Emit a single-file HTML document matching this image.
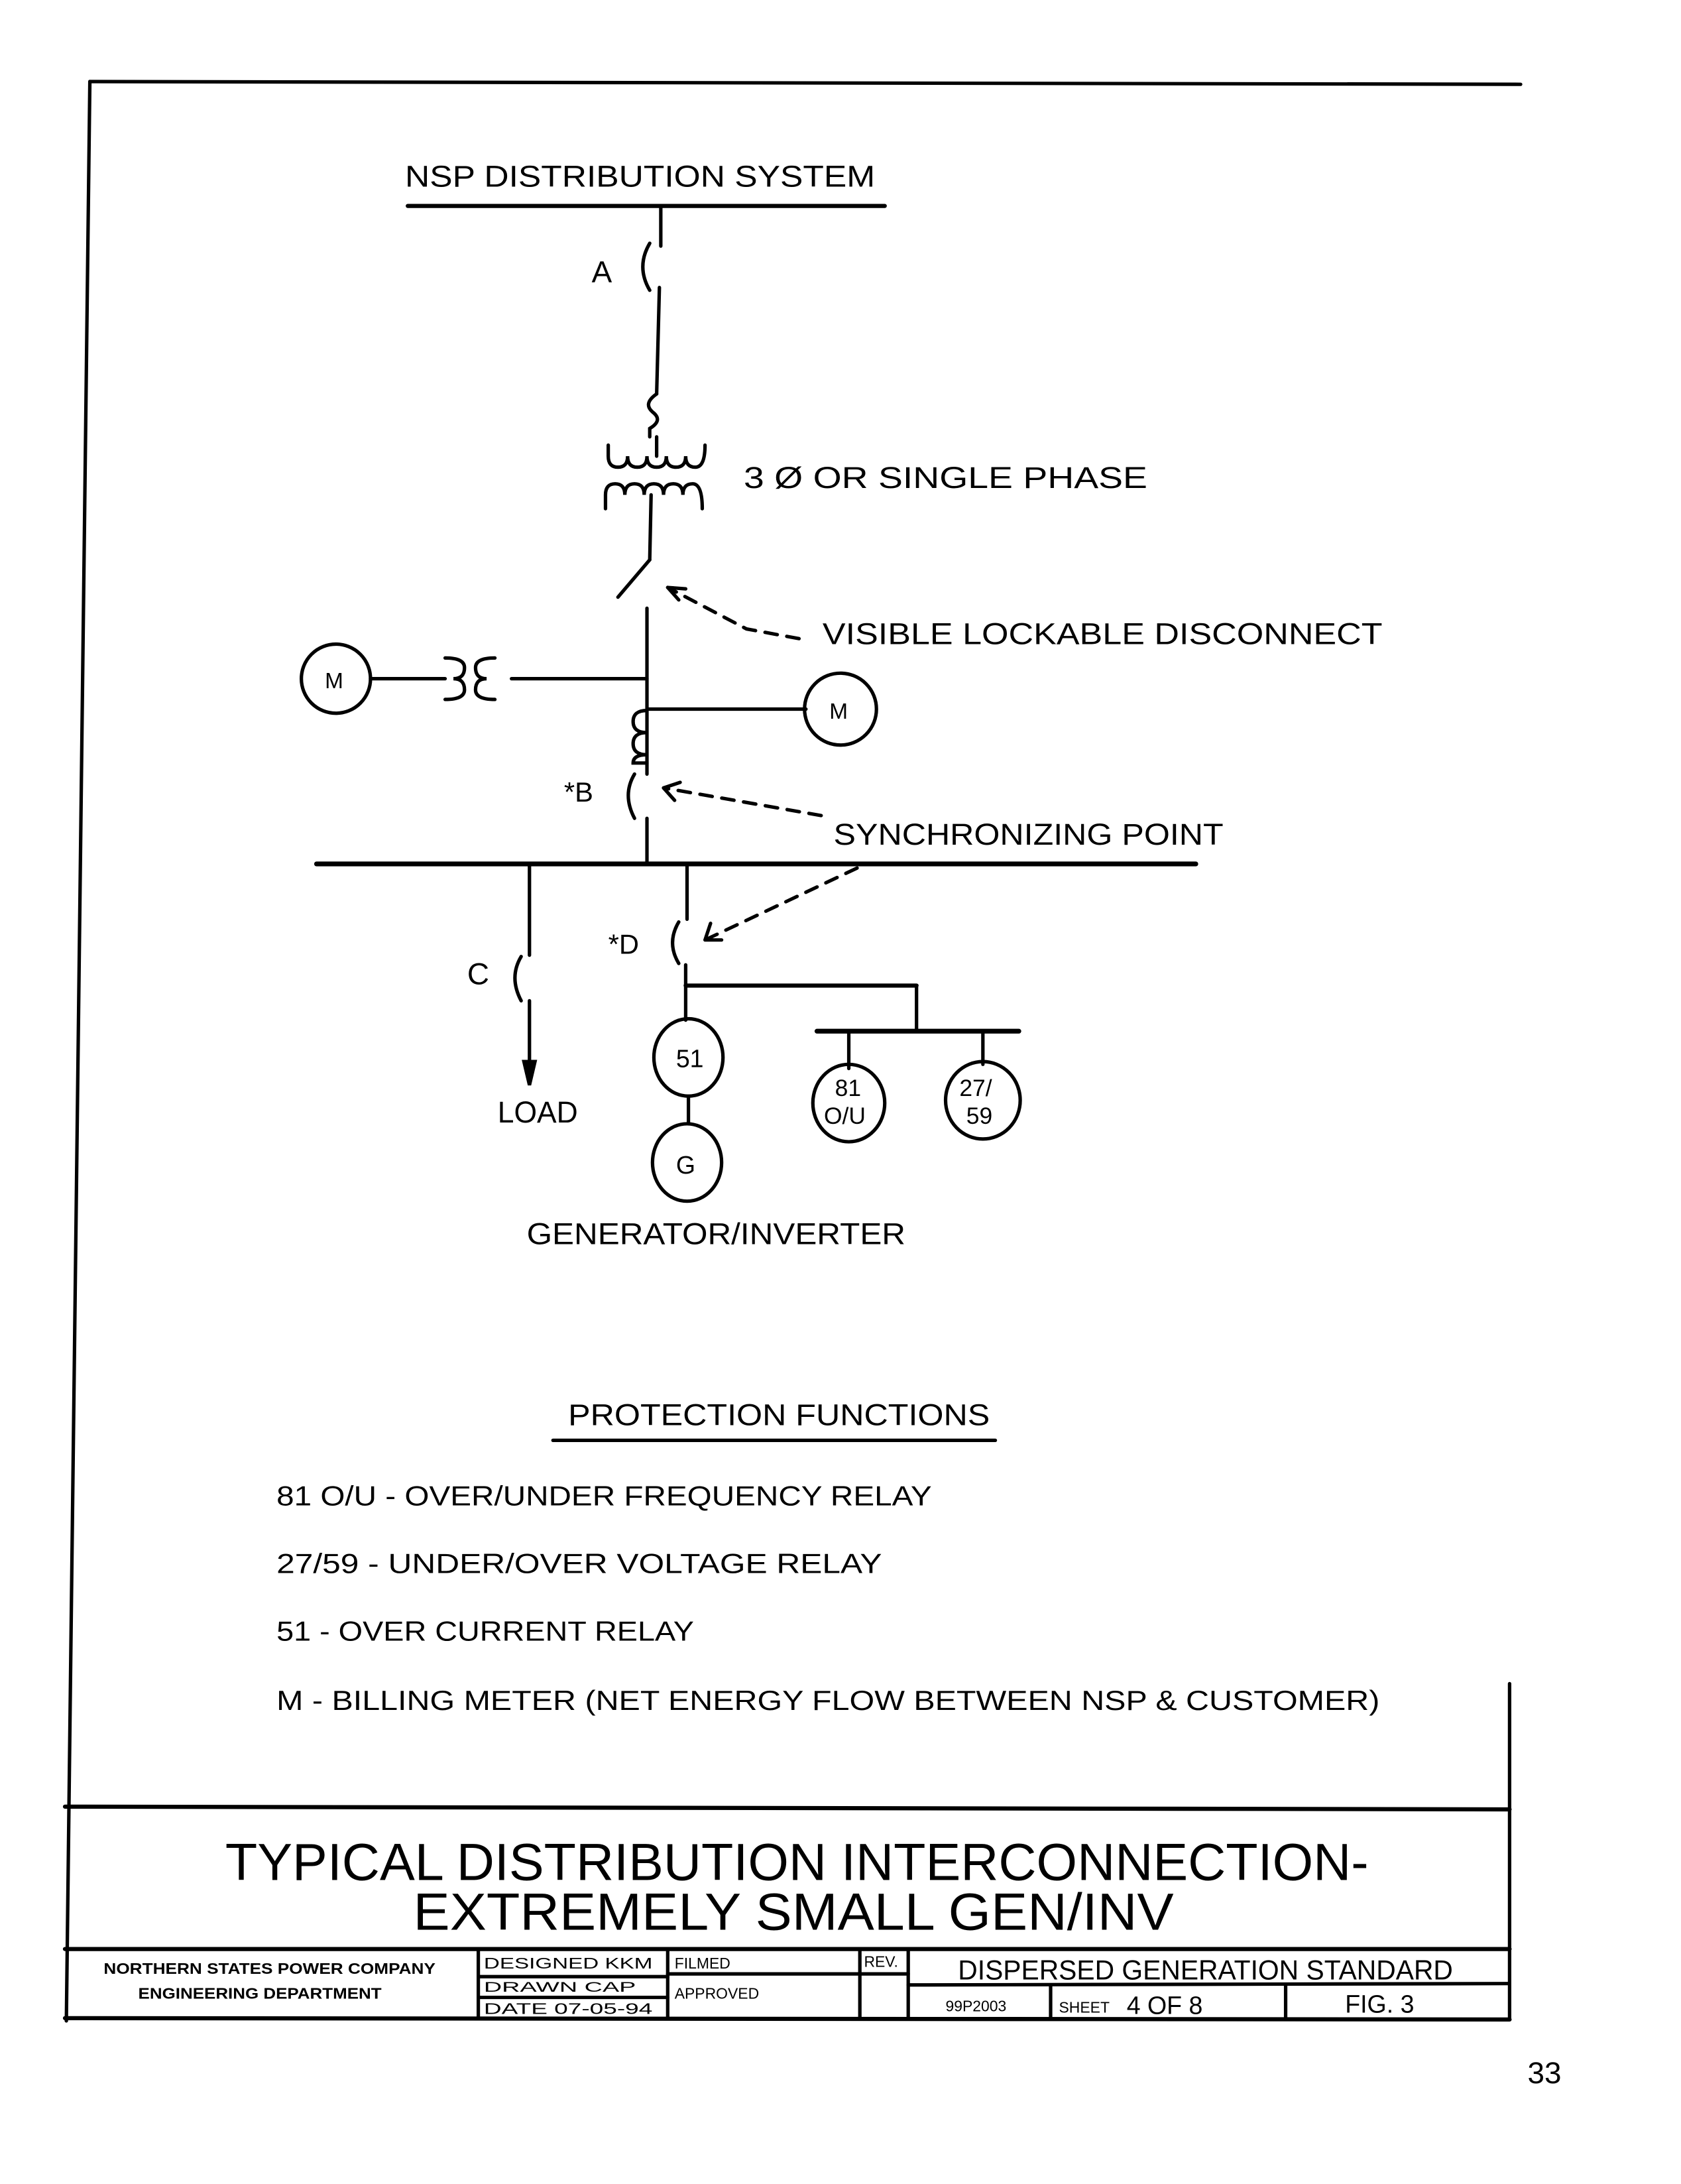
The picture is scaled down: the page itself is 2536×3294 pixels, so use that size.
<!DOCTYPE html>
<html><head><meta charset="utf-8"><style>
html,body{margin:0;padding:0;background:#fff;}
svg{display:block;}
text{font-family:"Liberation Sans",sans-serif;fill:#000;}
</style></head><body>
<svg width="2536" height="3294" viewBox="0 0 1216 1580" preserveAspectRatio="none" xmlns="http://www.w3.org/2000/svg">
<g stroke="#000" fill="none" stroke-width="2.5" stroke-linecap="round">
<line x1="65" y1="59" x2="1100" y2="61"/>
<line x1="65" y1="59" x2="48" y2="1462"/>
<line x1="1092" y1="1218" x2="1092" y2="1460" stroke-width="2.5"/>
<line x1="47" y1="1307" x2="1092" y2="1309" stroke-width="3"/>
<line x1="47" y1="1410" x2="1092" y2="1410" stroke-width="3"/>
<line x1="47" y1="1460" x2="1092" y2="1461" stroke-width="3"/>
<line x1="346" y1="1410" x2="346" y2="1460"/>
<line x1="483" y1="1410" x2="483" y2="1460"/>
<line x1="622" y1="1410" x2="622" y2="1460"/>
<line x1="657" y1="1410" x2="657" y2="1460"/>
<line x1="346" y1="1430" x2="483" y2="1430"/>
<line x1="346" y1="1445" x2="483" y2="1445" stroke-width="2.5"/>
<line x1="483" y1="1428" x2="657" y2="1428" stroke-width="2.5"/>
<line x1="657" y1="1436" x2="1092" y2="1435" stroke-width="2.5"/>
<line x1="760" y1="1436" x2="760" y2="1460"/>
<line x1="930" y1="1436" x2="930" y2="1460"/>

<line x1="295" y1="149" x2="640" y2="149" stroke-width="3"/>
<line x1="478" y1="149" x2="478" y2="178"/>
<path d="M470 176 Q460 193 470 210"/>
<line x1="477" y1="208" x2="475" y2="285"/>
<path d="M475 285 Q465 292 472 298 Q480 304 470 310 L470 316"/>
<path d="M440 322 L440 330 Q440 338 447 338 Q454 338 454 330 Q454 338 461 338 Q468 338 468 330 Q468 338 475 338 Q482 338 482 330 Q482 338 489 338 Q496 338 496 330 Q496 338 503 338 Q510 338 510 322"/>
<line x1="475" y1="316" x2="475" y2="330"/>
<path d="M438 368 L438 358 Q438 350 445 350 Q452 350 452 358 Q452 350 459 350 Q466 350 466 358 Q466 350 473 350 Q480 350 480 358 Q480 350 487 350 Q494 350 494 358 Q494 350 501 350 Q508 350 508 368"/>
<line x1="471" y1="358" x2="470" y2="405"/>
<line x1="470" y1="405" x2="447" y2="432"/>
<line x1="468" y1="440" x2="468" y2="560"/>
<path d="M578 462 L540 455 L483 425" stroke-dasharray="9 7"/>
<path d="M483 425 L496 426 M483 425 L491 434"/>
<circle cx="243" cy="491" r="25"/>
<line x1="268" y1="491" x2="322" y2="491"/>
<path d="M322 476 Q336 476 336 483 Q336 491 328 491 Q336 491 336 499 Q336 506 322 506"/>
<path d="M358 476 Q344 476 344 483 Q344 491 352 491 Q344 491 344 499 Q344 506 358 506"/>
<line x1="370" y1="491" x2="468" y2="491"/>
<line x1="468" y1="513" x2="583" y2="513"/>
<circle cx="608" cy="513" r="26"/>
<path d="M468 514 Q458 514 458 522 Q458 530 468 530 Q458 530 458 538 Q458 546 468 546 Q458 546 458 552 L468 552"/>
<path d="M459 560 Q450 575 459 592"/>
<line x1="468" y1="592" x2="468" y2="625"/>
<path d="M594 590 L480 570" stroke-dasharray="9 7"/>
<path d="M480 570 L492 566 M480 570 L488 579"/>
<line x1="229" y1="625" x2="865" y2="625" stroke-width="3.5"/>
<path d="M620 628 L510 680" stroke-dasharray="9 7"/>
<path d="M510 680 L514 668 M510 680 L522 680"/>
<line x1="383" y1="625" x2="383" y2="691"/>
<path d="M377 692 Q368 707 377 724"/>
<line x1="383" y1="724" x2="383" y2="775"/>
<path d="M379 768 L383 785 L387 768 Z" fill="#000"/>
<line x1="497" y1="625" x2="497" y2="665"/>
<path d="M491 667 Q482 682 491 697"/>
<line x1="496" y1="698" x2="496" y2="738"/>
<line x1="496" y1="713" x2="663" y2="713" stroke-width="3"/>
<line x1="663" y1="713" x2="663" y2="746"/>
<line x1="591" y1="746" x2="737" y2="746" stroke-width="3.5"/>
<line x1="614" y1="746" x2="614" y2="773"/>
<line x1="711" y1="746" x2="711" y2="770"/>
<ellipse cx="498" cy="765" rx="25" ry="28"/>
<line x1="498" y1="793" x2="498" y2="813"/>
<ellipse cx="497" cy="841" rx="25" ry="28"/>
<ellipse cx="614" cy="798" rx="26" ry="28"/>
<ellipse cx="711" cy="796" rx="27" ry="28"/>
<line x1="400" y1="1042" x2="720" y2="1042" stroke-width="2.5"/>
</g>
<g font-size="22">
<text x="293" y="135" textLength="340" lengthAdjust="spacingAndGlyphs">NSP DISTRIBUTION SYSTEM</text>
<text x="428" y="204">A</text>
<text x="538" y="353" textLength="292" lengthAdjust="spacingAndGlyphs">3 Ø  OR  SINGLE  PHASE</text>
<text x="595" y="466" textLength="405" lengthAdjust="spacingAndGlyphs">VISIBLE  LOCKABLE  DISCONNECT</text>
<text x="235" y="498" font-size="16">M</text>
<text x="600" y="520" font-size="16">M</text>
<text x="408" y="580" font-size="20">*B</text>
<text x="603" y="611" textLength="282" lengthAdjust="spacingAndGlyphs">SYNCHRONIZING  POINT</text>
<text x="338" y="712">C</text>
<text x="440" y="690" font-size="20">*D</text>
<text x="360" y="812" textLength="58" lengthAdjust="spacingAndGlyphs">LOAD</text>
<text x="489" y="772" font-size="18">51</text>
<text x="489" y="849" font-size="18">G</text>
<text x="604" y="793" font-size="17">81</text>
<text x="596" y="813" font-size="17">O/U</text>
<text x="694" y="793" font-size="17">27/</text>
<text x="699" y="813" font-size="17">59</text>
<text x="381" y="900" textLength="274" lengthAdjust="spacingAndGlyphs">GENERATOR/INVERTER</text>
<text x="411" y="1031" textLength="305" lengthAdjust="spacingAndGlyphs">PROTECTION  FUNCTIONS</text>
<text x="200" y="1089" font-size="20" textLength="474" lengthAdjust="spacingAndGlyphs">81 O/U - OVER/UNDER FREQUENCY RELAY</text>
<text x="200" y="1138" font-size="20" textLength="438" lengthAdjust="spacingAndGlyphs">27/59 - UNDER/OVER VOLTAGE RELAY</text>
<text x="200" y="1187" font-size="20" textLength="302" lengthAdjust="spacingAndGlyphs">51 - OVER CURRENT RELAY</text>
<text x="200" y="1237" font-size="20" textLength="798" lengthAdjust="spacingAndGlyphs">M  - BILLING METER (NET ENERGY FLOW  BETWEEN NSP &amp; CUSTOMER)</text>
<text x="163" y="1360" font-size="38" textLength="827" lengthAdjust="spacingAndGlyphs">TYPICAL  DISTRIBUTION  INTERCONNECTION-</text>
<text x="299" y="1396" font-size="38" textLength="550" lengthAdjust="spacingAndGlyphs">EXTREMELY  SMALL  GEN/INV</text>
<text x="75" y="1428" font-size="11" font-weight="bold" textLength="240" lengthAdjust="spacingAndGlyphs">NORTHERN STATES POWER COMPANY</text>
<text x="100" y="1446" font-size="11" font-weight="bold" textLength="176" lengthAdjust="spacingAndGlyphs">ENGINEERING DEPARTMENT</text>
<text x="350" y="1424" font-size="11" textLength="122" lengthAdjust="spacingAndGlyphs">DESIGNED   KKM</text>
<text x="350" y="1441" font-size="10" textLength="110" lengthAdjust="spacingAndGlyphs">DRAWN       CAP</text>
<text x="350" y="1457" font-size="11" textLength="122" lengthAdjust="spacingAndGlyphs">DATE   07-05-94</text>
<text x="488" y="1424" font-size="11">FILMED</text>
<text x="488" y="1446" font-size="11">APPROVED</text>
<text x="625" y="1423" font-size="11">REV.</text>
<text x="693" y="1432" font-size="20" textLength="358" lengthAdjust="spacingAndGlyphs">DISPERSED  GENERATION  STANDARD</text>
<text x="684" y="1455" font-size="11">99P2003</text>
<text x="766" y="1456" font-size="11">SHEET</text>
<text x="815" y="1457" font-size="18">4  OF  8</text>
<text x="973" y="1456" font-size="18">FIG. 3</text>
<text x="1105" y="1507" font-size="22">33</text>
</g>
</svg>
</body></html>
